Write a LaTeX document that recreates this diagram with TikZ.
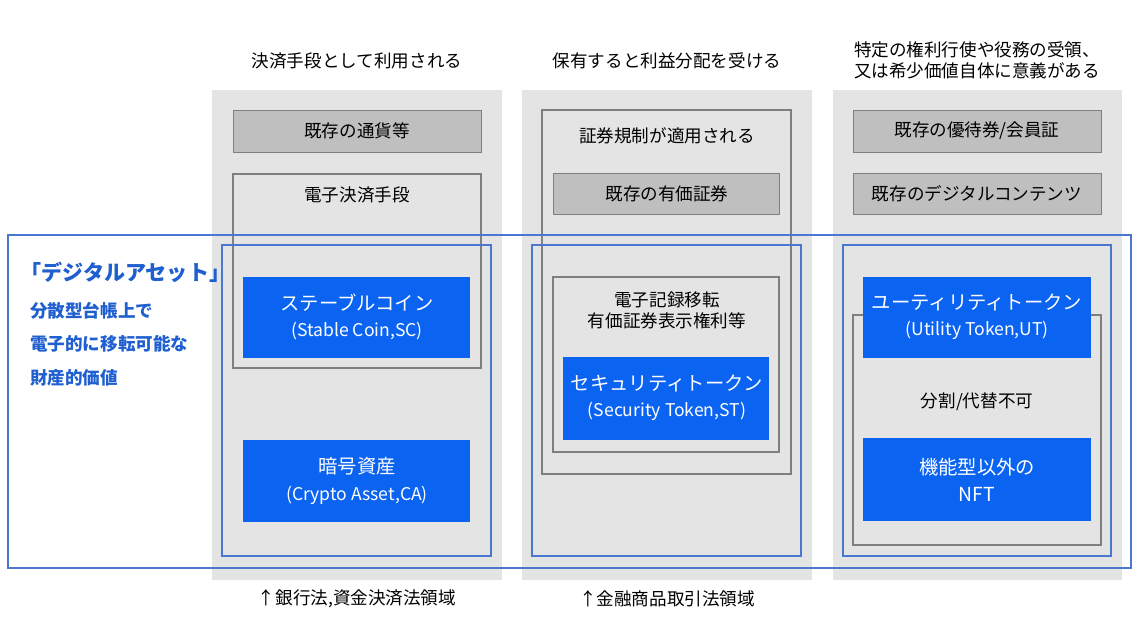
\documentclass[tikz,border=0pt]{standalone}
\usepackage{fontspec}
\setmainfont{Noto Sans CJK JP}
\definecolor{bgGray}{HTML}{E4E4E4}
\definecolor{boxGray}{HTML}{BFBFBF}
\definecolor{edgeGray}{HTML}{7F7F7F}
\definecolor{tokBlue}{HTML}{0B63F2}
\definecolor{lineBlue}{HTML}{4A78D0}
\definecolor{txtBlue}{HTML}{1F5FCF}
\tikzset{
  colbg/.style={fill=bgGray, draw=none},
  graybox/.style={fill=boxGray, draw=edgeGray, line width=0.5pt},
  framebox/.style={draw=edgeGray, line width=0.6pt},
  blueframe/.style={draw=lineBlue, line width=0.8pt},
  tokbox/.style={fill=tokBlue, draw=none},
  lbl/.style={font=\fontsize{10}{12}\selectfont, align=center},
  toklbl/.style={text=white, font=\fontsize{11}{15}\selectfont, align=center},
}
\newcommand{\subsz}{\fontsize{10}{14}\selectfont}
\begin{document}
\begin{tikzpicture}[x=0.02cm, y=-0.02cm]
    \useasboundingbox [fill=white] (0,0) rectangle (1148,638);

    % column backgrounds
    \fill [colbg] (212,90) rectangle (502,580);
    \fill [colbg] (522,90) rectangle (812,580);
    \fill [colbg] (833,90) rectangle (1122,580);

    % headers
    \node [lbl] at (357,61) (head1) {決済手段として利用される};
    \node [lbl] at (667,61) (head2) {保有すると利益分配を受ける};
    \node [lbl, text width=6.5cm] at (977,60) (head3) {特定の権利行使や役務の受領、\\又は希少価値自体に意義がある};

    % column 1
    \draw [graybox] (233,110) rectangle (481,152);
    \node [lbl] at (357,131) (cash) {既存の通貨等};
    \draw [framebox] (233,174) rectangle (481,368);
    \node [lbl] at (357,195) (epay) {電子決済手段};
    \fill [tokbox] (243,277) rectangle (470,358);
    \node [toklbl] at (357,317) (sc) {ステーブルコイン\\\subsz (Stable Coin,SC)};
    \fill [tokbox] (243,440) rectangle (470,522);
    \node [toklbl] at (357,481) (ca) {暗号資産\\\subsz (Crypto Asset,CA)};
    \draw [blueframe] (222,245) rectangle (491,556);

    % column 2
    \draw [framebox] (542,110) rectangle (791,474);
    \node [lbl] at (667,136) (secreg) {証券規制が適用される};
    \draw [graybox] (553,173) rectangle (779,214);
    \node [lbl] at (667,194) (secs) {既存の有価証券};
    \draw [framebox] (553,277) rectangle (779,452);
    \node [lbl] at (667,310) (erec) {電子記録移転\\有価証券表示権利等};
    \fill [tokbox] (563,357) rectangle (769,440);
    \node [toklbl] at (667,398) (st) {セキュリティトークン\\\subsz (Security Token,ST)};
    \draw [blueframe] (532,245) rectangle (801,556);

    % column 3
    \draw [graybox] (853,110) rectangle (1101,152);
    \node [lbl] at (977,131) (perk) {既存の優待券/会員証};
    \draw [graybox] (853,173) rectangle (1101,214);
    \node [lbl] at (977,194) (dcont) {既存のデジタルコンテンツ};
    \draw [framebox] (853,315) rectangle (1101,545);
    \node [lbl] at (977,402) (nonfung) {分割/代替不可};
    \fill [tokbox] (863,277) rectangle (1091,358);
    \node [toklbl] at (977,317) (ut) {ユーティリティトークン\\\subsz (Utility Token,UT)};
    \fill [tokbox] (863,438) rectangle (1091,521);
    \node [toklbl] at (977,480) (nft) {機能型以外の\\NFT};
    \draw [blueframe] (843,245) rectangle (1111,556);

    % digital asset frame
    \draw [blueframe] (8,235) rectangle (1131,568);
    \node [text=txtBlue, font=\bfseries\fontsize{12}{16}\selectfont, anchor=west] at (14,272) (da) {「デジタルアセット」};
    \node [text=txtBlue, font=\bfseries\fontsize{10}{15}\selectfont, align=left, anchor=north west] at (24,296) (dadef) {分散型台帳上で\\[4pt]電子的に移転可能な\\[4pt]財産的価値};

    % bottom
    \node [lbl] at (357,599) (law1) {↑銀行法,資金決済法領域};
    \node [lbl] at (667,599) (law2) {↑金融商品取引法領域};
\end{tikzpicture}
\end{document}
